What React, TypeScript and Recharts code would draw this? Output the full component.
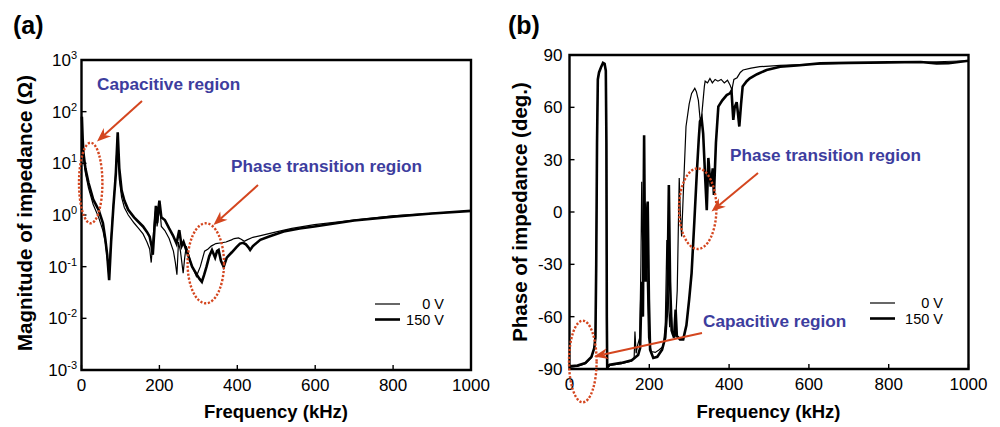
import { LineChart, Line, XAxis, YAxis, ReferenceArea, Legend } from "recharts"

// axis ticks
const FREQ_TICKS = [0, 200, 400, 600, 800, 1000]
const MAG_TICKS = [0.001, 0.01, 0.1, 1, 10, 100, 1000]
const PHASE_TICKS = [-90, -60, -30, 0, 30, 60, 90]

// (a) magnitude of impedance [kHz, ohm]
const mag0V: [number, number][] = [
  [1, 80], [3, 25], [5, 13], [10, 6.5], [18, 3.3], [30, 1.6], [44, 0.9], [55, 0.5], [61, 0.3],
  [66, 0.15], [70, 0.07], [74, 0.2], [80, 1], [86, 4], [93, 38], [97, 5], [103, 2.2], [110, 1.4],
  [120, 1.0], [135, 0.7], [146, 0.56], [158, 0.43], [168, 0.3], [175, 0.22], [179, 0.12], [183, 0.3],
  [188, 0.9], [191, 1.4], [194, 0.6], [198, 1.0], [201, 1.4], [205, 0.6], [214, 0.5], [225, 0.35],
  [236, 0.2], [241, 0.12], [245, 0.07], [249, 0.3], [254, 0.2], [261, 0.075], [265, 0.15], [269, 0.25],
  [275, 0.17], [282, 0.11], [290, 0.08], [295, 0.065], [305, 0.1], [316, 0.2], [325, 0.22], [333, 0.25],
  [345, 0.28], [360, 0.29], [371, 0.3], [385, 0.33], [392, 0.35], [403, 0.36], [410, 0.34], [418, 0.31],
  [425, 0.33], [440, 0.37], [460, 0.4], [500, 0.47], [540, 0.55], [598, 0.65], [700, 0.8], [801, 0.96],
  [900, 1.08], [1000, 1.2],
]
const mag150V: [number, number][] = [
  [1, 80], [3, 30], [5, 16], [10, 8], [18, 4.2], [30, 2], [44, 1.25], [55, 0.7], [61, 0.35],
  [66, 0.17], [71, 0.055], [76, 0.3], [82, 1.5], [88, 6], [93, 40], [97, 8], [103, 3], [110, 1.9],
  [120, 1.26], [135, 0.9], [146, 0.74], [158, 0.6], [168, 0.47], [175, 0.38], [180, 0.25], [183, 0.17],
  [187, 0.5], [191, 1.5], [194, 0.7], [197, 1.2], [200, 1.9], [205, 0.9], [214, 0.8], [225, 0.55],
  [235, 0.4], [244, 0.28], [251, 0.51], [257, 0.25], [262, 0.3], [269, 0.21], [276, 0.15], [284, 0.1],
  [296, 0.07], [303, 0.058], [309, 0.051], [315, 0.07], [321, 0.1], [328, 0.16], [335, 0.21], [343, 0.15],
  [348, 0.2], [352, 0.21], [358, 0.13], [365, 0.1], [373, 0.15], [386, 0.19], [398, 0.24], [407, 0.28],
  [415, 0.29], [422, 0.27], [428, 0.24], [433, 0.21], [440, 0.25], [459, 0.33], [480, 0.38], [519, 0.48],
  [560, 0.55], [598, 0.6], [700, 0.78], [801, 0.93], [900, 1.07], [1000, 1.2],
]

// (b) phase of impedance [kHz, deg]
const phase0V: [number, number][] = [
  [0, -89], [20, -88.5], [40, -87], [55, -83.5], [62, -78], [65, -72], [67, -30], [69, 40], [71, 76],
  [74, 80], [79, 83], [84, 85.5], [88, 85], [91, 81], [92.5, 40], [93.5, -60], [94.5, -89.5], [101, -88],
  [130, -87], [155, -85.5], [162, -84], [164, -68.5], [167, -81], [171, -76], [176, -72], [179, -30],
  [181, 17.4], [184, -30], [188, -15], [191, 5], [194, -30], [198, -72], [205, -80], [215, -80.5],
  [225, -79], [235, -77], [240, -65], [244, -16], [247, -45], [251, -66], [254, -54], [258, -70],
  [264, -71], [270, -45], [275, 19.5], [278, -2], [281, -14], [286, 15], [292, 49], [300, 62], [306, 68],
  [314, 70.9], [318, 69], [323, 64], [327, 54], [330, 52], [334, 62], [338, 72], [340, 75], [346, 74],
  [352, 76.5], [358, 74], [365, 76], [372, 75], [380, 76], [388, 74], [396, 75.5], [402, 73], [407, 70],
  [412, 76], [420, 77], [428, 80], [435, 81.4], [455, 82.5], [477, 83.3], [528, 84], [600, 84.7],
  [700, 85.3], [800, 85.8], [900, 86], [1000, 86.7],
]
const phase150V: [number, number][] = [
  [0, -88.5], [20, -88], [40, -86.5], [55, -83], [62, -78], [65, -72], [67, -30], [69, 40], [71, 76],
  [74, 80], [79, 83], [84, 85.5], [88, 85], [91, 81], [92.5, 40], [93.5, -60], [94.5, -89], [101, -87.5],
  [130, -86.5], [156, -85], [172, -82], [177, -78], [181, -40], [184, -60], [187, 44], [189, -20],
  [191, -40], [193, -5], [196, 6], [199, -50], [202, -79], [210, -83.7], [220, -83], [232, -79],
  [240, -72], [245, -55], [249, 15.5], [252, -40], [256, -68], [262, -72], [266, -56], [269, -71],
  [277, -73], [285, -73], [293, -65], [300, -50], [306, -35], [313, -5], [319, 22], [324, 42], [327, 52],
  [331, 54], [335, 45], [340, 20], [344, 1], [348, 31], [351, 22], [354, 14.6], [359, 25], [362, 9.8],
  [367, 39.6], [373, 60.4], [383, 64], [394, 67], [402, 68], [406, 69.5], [410.5, 52.8], [414, 60],
  [419, 63], [422, 57], [425.6, 49], [430, 62], [434, 72], [444, 75], [452, 76.6], [470, 79], [494, 81.4],
  [528, 83.3], [570, 84], [628, 85.2], [700, 85.5], [800, 85.8], [880, 86], [920, 85.2], [950, 85.3],
  [1000, 86.7],
]

const FONT = "'Liberation Sans', Arial, Helvetica, sans-serif"
const BLUE = "#3d3d9e"
const RED = "#d4461f"
const LINE_W: Record<string, number> = { "0 V": 1.2, "150 V": 2.6 }

const toPts = (arr: [number, number][]) => arr.map(([f, v]) => ({ f, v }))

function FreqTick(props: any) {
  const { x, y, payload } = props
  return (
    <g>
      <line x1={x} y1={y} x2={x} y2={y - 5} stroke="#000" strokeWidth={1.4} />
      <text x={x} y={y + 21} textAnchor="middle" fontSize={17} fontFamily={FONT} fill="#000">
        {payload.value}
      </text>
    </g>
  )
}

function LogTick(props: any) {
  const { x, y, payload } = props
  const exp = Math.round(Math.log10(payload.value))
  return (
    <g>
      <line x1={x} y1={y} x2={x + 5} y2={y} stroke="#000" strokeWidth={1.4} />
      <text x={x - 4.5} y={y + 6} textAnchor="end" fontSize={17} fontFamily={FONT} fill="#000">
        <tspan>10</tspan>
        <tspan dy={-7} fontSize={11}>{exp}</tspan>
      </text>
    </g>
  )
}

function PhaseTick(props: any) {
  const { x, y, payload } = props
  return (
    <g>
      <line x1={x} y1={y} x2={x + 5} y2={y} stroke="#000" strokeWidth={1.4} />
      <text x={x - 7} y={y + 6} textAnchor="end" fontSize={17} fontFamily={FONT} fill="#000">
        {payload.value}
      </text>
    </g>
  )
}

const legendContent = (textRight: number) => (props: any) => (
  <svg width={80} height={34} style={{ display: "block" }}>
    {(props.payload || []).map((entry: any, i: number) => (
      <g key={entry.value}>
        <line x1={0} y1={8 + i * 15.5} x2={25} y2={8 + i * 15.5} stroke="#000" strokeWidth={LINE_W[entry.value]} />
        <text x={textRight} y={13 + i * 15.5} textAnchor="end" fontSize={14.5} fontFamily={FONT} fill="#000">
          {entry.value}
        </text>
      </g>
    ))}
  </svg>
)

function Arrow({ x1, y1, x2, y2 }: { x1: number; y1: number; x2: number; y2: number }) {
  const dx = x2 - x1
  const dy = y2 - y1
  const len = Math.hypot(dx, dy)
  const ux = dx / len
  const uy = dy / len
  const L = 14
  const W = 11
  const bx = x2 - ux * L
  const by = y2 - uy * L
  const pts = [
    [x2, y2],
    [bx - uy * W / 2, by + ux * W / 2],
    [x2 - ux * L * 0.7, y2 - uy * L * 0.7],
    [bx + uy * W / 2, by - ux * W / 2],
  ]
  return (
    <g>
      <line x1={x1} y1={y1} x2={x2 - ux * L * 0.7} y2={y2 - uy * L * 0.7} stroke={RED} strokeWidth={2} />
      <polygon points={pts.map((p) => p.join(",")).join(" ")} fill={RED} />
    </g>
  )
}

function DotEllipse({ cx, cy, rx, ry }: { cx: number; cy: number; rx: number; ry: number }) {
  return <ellipse cx={cx} cy={cy} rx={rx} ry={ry} fill="none" stroke={RED} strokeWidth={2.4} strokeDasharray="2.2 1.7" />
}

function Note({ x, y, children }: { x: number; y: number; children: string }) {
  return (
    <text x={x} y={y} fontSize={17.2} fontWeight="bold" fontFamily={FONT} fill={BLUE}>
      {children}
    </text>
  )
}

export default function App() {
  return (
    <div style={{ position: "absolute", left: 0, top: 0, width: 1000, height: 427, background: "#fff", fontFamily: FONT }}>
      <div style={{ position: "absolute", left: 0, top: 0 }}>
        <LineChart width={500} height={427} margin={{ top: 60, right: 29, bottom: 0, left: 0 }}>
          <XAxis dataKey="f" type="number" domain={[0, 1000]} ticks={FREQ_TICKS} interval={0} height={57}
            tickSize={0} tickMargin={0} axisLine={false} tickLine={false} tick={<FreqTick />} />
          <YAxis type="number" scale="log" domain={[0.001, 1000]} ticks={MAG_TICKS} interval={0} width={81.5}
            allowDataOverflow tickSize={0} tickMargin={0} axisLine={false} tickLine={false} tick={<LogTick />} />
          <ReferenceArea x1={0} x2={1000} y1={0.001} y2={1000} fill="none" fillOpacity={0} stroke="#000"
            strokeWidth={2.4} ifOverflow="visible" />
          <Line data={toPts(mag0V)} dataKey="v" name="0 V" type="linear" stroke="#000" strokeWidth={LINE_W["0 V"]}
            dot={false} isAnimationActive={false} />
          <Line data={toPts(mag150V)} dataKey="v" name="150 V" type="linear" stroke="#000" strokeWidth={LINE_W["150 V"]}
            dot={false} isAnimationActive={false} />
          <Legend layout="vertical" align="center" verticalAlign="middle" content={legendContent(69)}
            wrapperStyle={{ position: "absolute", left: 375, top: 296, width: 80, height: 34 }} />
        </LineChart>
      </div>
      <div style={{ position: "absolute", left: 500, top: 0 }}>
        <LineChart width={500} height={427} margin={{ top: 55, right: 31.5, bottom: 0, left: 0 }}>
          <XAxis dataKey="f" type="number" domain={[0, 1000]} ticks={FREQ_TICKS} interval={0} height={58}
            tickSize={0} tickMargin={0} axisLine={false} tickLine={false} tick={<FreqTick />} />
          <YAxis type="number" domain={[-90, 90]} ticks={PHASE_TICKS} interval={0} width={69.5}
            allowDataOverflow tickSize={0} tickMargin={0} axisLine={false} tickLine={false} tick={<PhaseTick />} />
          <ReferenceArea x1={0} x2={1000} y1={-90} y2={90} fill="none" fillOpacity={0} stroke="#000"
            strokeWidth={2.4} ifOverflow="visible" />
          <Line data={toPts(phase0V)} dataKey="v" name="0 V" type="linear" stroke="#000" strokeWidth={LINE_W["0 V"]}
            dot={false} isAnimationActive={false} />
          <Line data={toPts(phase150V)} dataKey="v" name="150 V" type="linear" stroke="#000" strokeWidth={LINE_W["150 V"]}
            dot={false} isAnimationActive={false} />
          <Legend layout="vertical" align="center" verticalAlign="middle" content={legendContent(73)}
            wrapperStyle={{ position: "absolute", left: 370, top: 295, width: 80, height: 34 }} />
        </LineChart>
      </div>
      <svg width={1000} height={427} style={{ position: "absolute", left: 0, top: 0, pointerEvents: "none" }}>
        <text x={13} y={34} fontSize={25} fontWeight="bold" fontFamily={FONT}>(a)</text>
        <text x={508} y={34} fontSize={25} fontWeight="bold" fontFamily={FONT}>(b)</text>
        <text x={276} y={418} textAnchor="middle" fontSize={18.5} fontWeight="bold" fontFamily={FONT}>Frequency (kHz)</text>
        <text x={768.5} y={418} textAnchor="middle" fontSize={18.5} fontWeight="bold" fontFamily={FONT}>Frequency (kHz)</text>
        <text transform="translate(31.5,213) rotate(-90)" textAnchor="middle" fontSize={20.5} fontWeight="bold" fontFamily={FONT}>
          Magnitude of impedance (Ω)
        </text>
        <text transform="translate(527,212) rotate(-90)" textAnchor="middle" fontSize={20.5} fontWeight="bold" fontFamily={FONT}>
          Phase of impedance (deg.)
        </text>

        <Note x={97} y={90}>Capacitive region</Note>
        <Note x={231} y={172}>Phase transition region</Note>
        <Arrow x1={142} y1={101} x2={97} y2={141.5} />
        <Arrow x1={258} y1={185} x2={213.5} y2={225} />
        <DotEllipse cx={90.7} cy={183} rx={11.7} ry={40.3} />
        <DotEllipse cx={205.8} cy={263.3} rx={18.2} ry={40} />

        <Note x={730} y={161}>Phase transition region</Note>
        <Note x={703} y={327}>Capacitive region</Note>
        <Arrow x1={758} y1={173} x2={711.5} y2={211.5} />
        <Arrow x1={702} y1={333} x2={594} y2={356.5} />
        <DotEllipse cx={697.7} cy={208.7} rx={18.7} ry={40.3} />
        <DotEllipse cx={582.8} cy={361.5} rx={13.8} ry={40.8} />
      </svg>
    </div>
  )
}
